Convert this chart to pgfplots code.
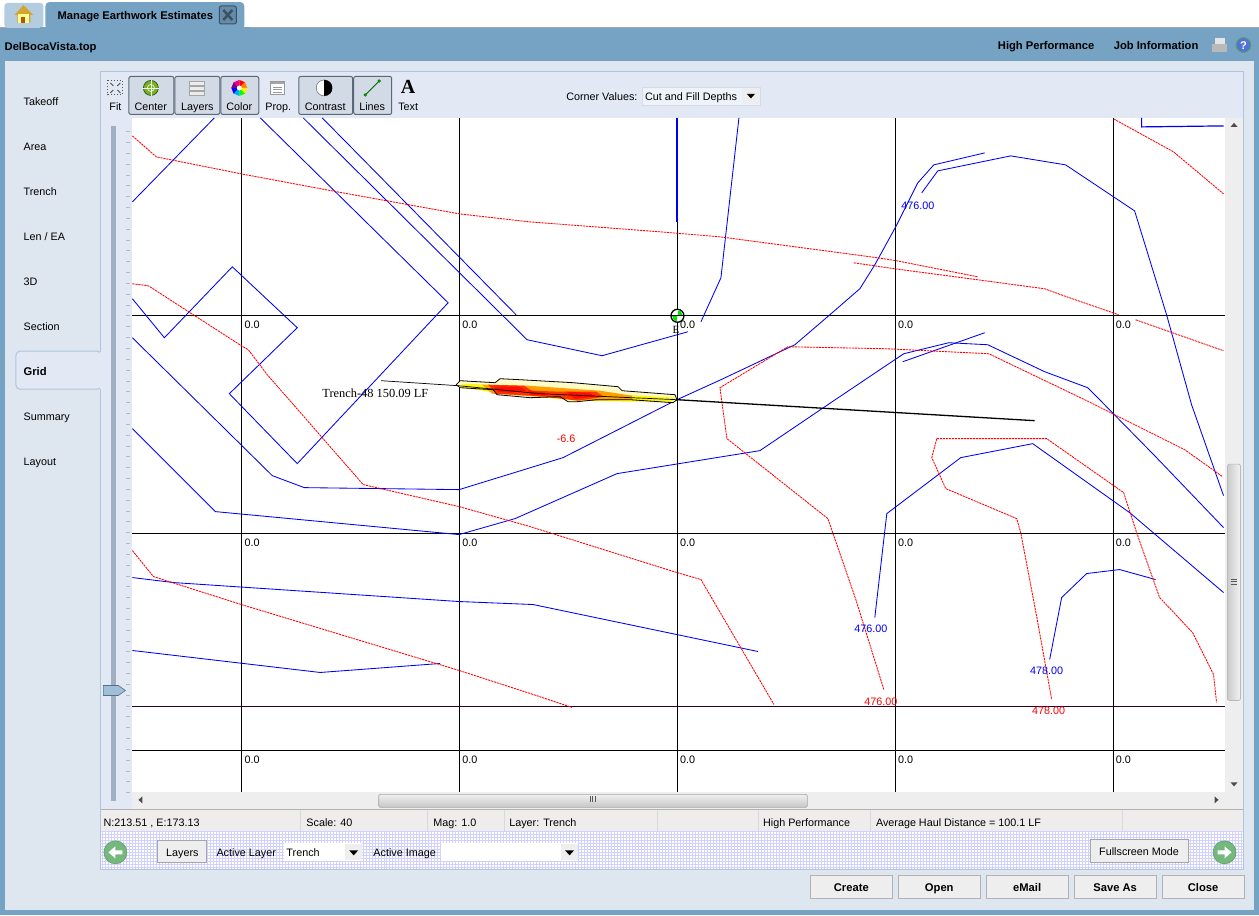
\documentclass[border=0pt]{standalone}
\usepackage{pgfplots}
\pgfplotsset{compat=1.18}
\usepackage{fontspec}
\setmainfont{Liberation Sans}
\newfontfamily\serifx{Liberation Serif}
\usetikzlibrary{patterns}
\definecolor{hdr}{HTML}{76A3C4}
\definecolor{pan}{HTML}{DEE6F0}
\definecolor{inn}{HTML}{E2E9F5}
\definecolor{edge}{HTML}{B0C4DE}
\definecolor{btn}{HTML}{D2DAE6}
\definecolor{btnb}{HTML}{5A6878}
\definecolor{cblue}{HTML}{0000F0}
\definecolor{cred}{HTML}{FF0000}
\definecolor{stat}{HTML}{EFEDEC}
\definecolor{sb}{HTML}{EEEEEE}
\definecolor{grn}{HTML}{74B87C}
\definecolor{sld}{HTML}{A0AFC2}
\newcommand{\pl}[2]{\addplot[forget plot,mark=none,#1] coordinates {#2};}
\newcommand{\pg}[2]{\addplot[forget plot,mark=none,draw=none,#1] coordinates {#2} --cycle;}
\newcommand{\rc}[5]{\addplot[forget plot,mark=none,draw=none,#1] coordinates {(#2,#3)(#4,#3)(#4,#5)(#2,#5)} --cycle;}
\newcommand{\dt}[4]{\path[#2] (axis cs:#3,#4) circle[radius=#1pt];}
\newcommand{\tl}[3]{\node[anchor=mid west,inner sep=0pt,yshift=-1.8pt] at (axis cs:#1,#2) {#3};}
\newcommand{\tc}[3]{\node[anchor=mid,inner sep=0pt,yshift=-1.8pt] at (axis cs:#1,#2) {#3};}
\newcommand{\tb}[4][mid west]{\node[anchor=#1,inner sep=0pt,yshift=-1.8pt,font=\fontsize{11.2}{13}\selectfont\bfseries] at (axis cs:#2,#3) {#4};}
\tikzset{blu/.style={draw=cblue,line width=0.85pt},
 rdl/.style={draw=cred,line width=0.85pt,dash pattern=on 2.2pt off 0.8pt},
 blk/.style={draw=black,line width=1pt}}
\begin{document}
\begin{tikzpicture}[every node/.style={font=\fontsize{10.8}{12}\selectfont}]
\begin{axis}[scale only axis,width=1259pt,height=916pt,xmin=0,xmax=1259,ymin=0,ymax=916,y dir=reverse,
 axis line style={draw=none},ticks=none,clip=false]
% window
\rc{fill=white}{0}{0}{1259}{916}
\rc{fill=hdr}{0}{28}{1259}{916}
\pl{draw=gray!70,line width=1pt}{(0,27.5)(1259,27.5)}
\rc{fill=pan}{5}{61}{1254}{911}
% tabs
\pg{fill=hdr!55!white,rounded corners=3pt}{(4,28)(4,3)(43,3)(43,28)}
\pg{fill=hdr,rounded corners=4pt}{(45,30)(45,2)(244,2)(244,30)}
\rc{fill=hdr}{40}{27}{250}{30}
% house
\pg{fill=brown!70!yellow}{(23,5)(33,15)(30,15)(30,23)(17,23)(17,15)(14,15)}
\rc{fill=yellow!40!white}{18}{14}{29}{23}
\rc{fill=orange!70!black}{21}{17}{25}{23}
% close box
\pg{fill=hdr!85!black,draw=hdr!50!black,line width=1pt,rounded corners=2pt}{(219,6)(236,6)(236,24)(219,24)}
\pl{draw=hdr!50!black,line width=2.5pt}{(223,10)(232,20)}
\pl{draw=hdr!50!black,line width=2.5pt}{(232,10)(223,20)}
% printer, help
\rc{fill=gray!20!white}{1215}{38}{1225}{45}
\rc{fill=gray!55!white}{1212}{44}{1227}{52}
\dt{7.5}{fill=hdr!70!blue,draw=green!35!gray,line width=0.8pt}{1244}{45}
% inner panel
\rc{fill=inn,draw=edge,line width=1pt}{100.5}{71.5}{1243.5}{870.5}
\rc{fill=pan}{5}{72}{100}{911}
\pl{draw=edge,line width=1pt}{(100.5,72)(100.5,351)}
\pl{draw=edge,line width=1pt}{(100.5,390)(100.5,870)}
\pg{fill=inn,rounded corners=4pt,draw=edge,line width=1pt}{(101,351.5)(15.5,351.5)(15.5,389.5)(101,389.5)}
\rc{fill=inn}{100}{352}{103}{389}
% canvas
\rc{fill=white}{132}{118}{1225}{793}
% slider
\rc{fill=sld}{111}{126}{116}{802}
\addplot[forget plot,only marks,mark=-,mark size=2pt,mark options={draw=gray!55,line width=0.9pt}] coordinates {
(128,132)(128,143)(128,154)(128,165)(128,176)(128,186)(128,197)(128,208)(128,219)(128,230)
(128,241)(128,251)(128,262)(128,273)(128,284)(128,295)(128,306)(128,316)(128,327)(128,338)
(128,349)(128,360)(128,371)(128,382)(128,392)(128,403)(128,414)(128,425)(128,436)(128,447)
(128,457)(128,468)(128,479)(128,490)(128,501)(128,512)(128,522)(128,533)(128,544)(128,555)
(128,566)(128,577)(128,587)(128,598)(128,609)(128,620)(128,631)(128,642)(128,652)(128,663)
(128,674)(128,685)(128,696)(128,707)(128,717)(128,728)(128,739)(128,750)(128,761)(128,772)
(128,782)(128,793)};
\pg{fill=hdr!70!white,draw=hdr!70!black,line width=0.6pt}{(103,686)(118,686)(125,691)(118,696)(103,696)}
% grid
\pl{blk}{(241.5,118)(241.5,793)}
\pl{blk}{(459.5,118)(459.5,793)}
\pl{blk}{(677.5,118)(677.5,793)}
\pl{blk}{(895.5,118)(895.5,793)}
\pl{blk}{(1113.5,118)(1113.5,793)}
\pl{blk}{(132,315.5)(1225,315.5)}
\pl{blk}{(132,533.5)(1225,533.5)}
\pl{draw=black!70!violet,line width=1pt}{(132,707.5)(1225,707.5)}
\pl{blk}{(132,751.5)(1225,751.5)}
% blue contours
\pl{blu}{(132,202)(214,118)}
\pl{blu}{(132,299)(164,338)(232,267)(297,328)(229,394)(297,464)(448,303)(260,118)}
\pl{blu}{(303,118)(527,340)(602,356)(688,332)}
\pl{blu}{(322,118)(516,315)}
\pl{blu}{(132,338)(272,476)(304,488)(459,490)(563,458)(677,400)(721,380)(795,345)(830,315)(860,289)(875,265)(897,225)(918,183)(934,165)(985,153)}
\pl{blu}{(132,429)(215,512)(459,535)(515,519)(617,474)(760,451)(828,405)(895,360)(904,354)(949,343)(988,345)(1045,372)(1088,388)(1100,400)(1156,457)(1224,528)}
\pl{blu}{(903,362)(985,333)}
\pl{blu}{(922,193)(938,171)(1011,156)(1066,165)(1135,211)(1167,315)(1192,405)(1224,496)}
\pl{blu}{(739,118)(721,278)(701,322)}
\pl{draw=cblue,line width=2pt}{(677,118)(677,222)}
\pl{blu,line width=1.2pt}{(1142,118)(1142,127)(1224,126)}
\pl{blu}{(875,618)(887,514)(961,458)(1033,444)(1130,513)(1224,593)}
\pl{blu}{(1050,660)(1062,598)(1087,574)(1120,570)(1156,580)}
\pl{blu}{(132,578)(173,583)(459,602)(533,605)(758,652)}
\pl{blu}{(132,651)(320,673)(440,664)}
% red contours
\pl{rdl}{(132,136)(156,157)(241,174)(337,192)(459,214)(529,222)(660,232)(720,237)(878,258)(897,261)(978,277)}
\pl{rdl}{(854,263)(895,269)(978,280)(1045,289)(1067,297)(1119,315)}
\pl{rdl}{(1136,320)(1224,351)}
\pl{rdl}{(884,690)(856,600)(828,519)(727,439)(720,388)(788,347)(886,349)(989,354)(1085,400)(1185,450)(1223,477)}
\pl{rdl}{(937,439)(1047,439)(1124,493)(1137,533)(1160,598)(1193,633)(1214,675)(1217,703)}
\pl{rdl}{(937,439)(932,458)(946,489)(1017,519)(1021,533)(1037,617)(1052,700)}
\pl{rdl}{(132,284)(148,286)(241,346)(248,350)(267,375)(363,485)(459,507)(530,527)(677,573)(701,580)(774,705)}
\pl{rdl}{(132,551)(153,577)(241,605)(459,671)(530,694)(572,708)}
\pl{rdl}{(1114,119)(1174,152)(1224,194)}
% trench heat
\pg{fill=yellow!22!white}{(456,385)(460,381)(495,383)(500,379)(520,380)(573,383)(618,387)(622,391)(675,395)(677,400)(673,403)(630,400)(597,400)(577,402)(568,402)(560,397)(530,398)(497,395)(493,390)(460,388)}
\pg{fill=yellow!90!white}{(462,384)(490,385)(560,391)(625,395)(676,398)(672,402)(632,402)(632,402)(575,401)(490,392)(462,388)}
\pg{fill=orange!75!yellow}{(482,385)(528,386)(600,391)(632,396)(632,400)(590,401)(540,397)(492,394)}
\pg{fill=red!60!orange}{(488,385)(524,386)(532,391)(560,392)(596,392)(604,397)(578,401)(545,397)(530,396)(496,394)}
\pg{fill=red!90!orange}{(494,387)(520,387)(526,391)(510,393)(498,392)}
\pg{fill=red!90!orange}{(528,391)(545,393)(545,396)(530,395)}
\pg{fill=red!90!orange}{(566,392)(590,393)(595,397)(575,399)}
\pl{draw=black,line width=0.8pt}{(456,385)(460,381)(495,383)(500,379)(520,380)(573,383)(618,387)(622,391)(675,395)(677,400)(673,403)(630,400)(597,400)(577,402)(568,402)(560,397)(530,398)(497,395)(493,390)(460,388)(456,385)}
\pl{draw=black,line width=0.7pt}{(381,381)(458,386)(540,394)(677,400)}
\pl{draw=black,line width=1.3pt}{(677,400)(1035,421)}
% cursor
\dt{6.5}{fill=white,draw=black,line width=1.3pt}{677.5}{316}
\pg{fill=green!90!black}{(678,316)(678,310.5)(681,311.5)(683,316)}
\pg{fill=green!90!black}{(677,316)(677,321.5)(674,320.5)(672,316)}
\pl{draw=black,line width=1pt}{(671,315.5)(684,315.5)}
% scrollbars
\rc{fill=sb}{132}{793}{1225}{810}
\rc{fill=sb}{1225}{118}{1243}{810}
\pg{top color=gray!12,bottom color=gray!45,draw=gray!70,line width=0.7pt,rounded corners=2pt}{(378.5,795)(807.5,795)(807.5,808)(378.5,808)}
\pg{left color=gray!40,right color=gray!10,draw=gray!55,line width=0.7pt,rounded corners=2pt}{(1228,464.5)(1241,464.5)(1241,701)(1228,701)}
\pl{draw=gray!70!black,line width=0.8pt}{(590,797)(590,803)}
\pl{draw=gray!70!black,line width=0.8pt}{(592.5,797)(592.5,803)}
\pl{draw=gray!70!black,line width=0.8pt}{(595,797)(595,803)}
\pl{draw=gray!70!black,line width=0.8pt}{(1231,579.5)(1237,579.5)}
\pl{draw=gray!70!black,line width=0.8pt}{(1231,582)(1237,582)}
\pl{draw=gray!70!black,line width=0.8pt}{(1231,584.5)(1237,584.5)}
\pg{fill=black!70}{(142,797)(142,804)(138,800.5)}
\pg{fill=black!70}{(1215,797)(1215,804)(1219,800.5)}
\pg{fill=black!70}{(1231,127)(1238,127)(1234.5,123)}
\pg{fill=black!70}{(1231,783)(1238,783)(1234.5,787)}
% status bar
\rc{fill=stat}{101}{811}{1243}{832}
\pl{draw=gray!60,line width=1pt}{(101,810.5)(1243,810.5)}
\pl{draw=gray!30,line width=0.8pt}{(300.5,811)(300.5,832)}
\pl{draw=gray!30,line width=0.8pt}{(427.5,811)(427.5,832)}
\pl{draw=gray!30,line width=0.8pt}{(504.5,811)(504.5,832)}
\pl{draw=gray!30,line width=0.8pt}{(657.5,811)(657.5,832)}
\pl{draw=gray!30,line width=0.8pt}{(758.5,811)(758.5,832)}
\pl{draw=gray!30,line width=0.8pt}{(870.5,811)(870.5,832)}
\pl{draw=gray!30,line width=0.8pt}{(1122.5,811)(1122.5,832)}
% bottom strip
\rc{fill=white}{101}{832}{1243}{870}
\rc{pattern=grid,pattern color=blue!18!white}{101}{832}{1243}{870}
\pl{draw=edge,line width=1pt}{(101,870.5)(1243,870.5)}
\dt{11.5}{fill=grn,draw=grn!85!black,line width=0.6pt}{115}{853}
\dt{11.5}{fill=grn,draw=grn!85!black,line width=0.6pt}{1225}{853}
\pg{fill=white}{(108,853)(115,847)(115,851)(122,851)(122,855)(115,855)(115,859)}
\pg{fill=white}{(1232,853)(1225,847)(1225,851)(1218,851)(1218,855)(1225,855)(1225,859)}
\rc{fill=sb,draw=gray!70,line width=0.8pt}{157.5}{841.5}{206.5}{863.5}
\rc{fill=white}{284}{844}{362}{862}
\rc{fill=sb}{345}{845}{362}{861}
\pg{fill=black}{(349,851)(358,851)(353.5,856)}
\rc{fill=white}{441}{844}{578}{862}
\rc{fill=sb}{561}{845}{578}{861}
\pg{fill=black}{(565,851)(574,851)(569.5,856)}
\rc{fill=sb,draw=gray!70,line width=0.8pt}{1090.5}{840.5}{1189}{863}
% action buttons
\rc{fill=sb,draw=gray!60,line width=1pt}{810.5}{876.5}{892.5}{899.5}
\rc{fill=sb,draw=gray!60,line width=1pt}{898.5}{876.5}{980.5}{899.5}
\rc{fill=sb,draw=gray!60,line width=1pt}{986.5}{876.5}{1068.5}{899.5}
\rc{fill=sb,draw=gray!60,line width=1pt}{1074.5}{876.5}{1156.5}{899.5}
\rc{fill=sb,draw=gray!60,line width=1pt}{1162.5}{876.5}{1244.5}{899.5}
% toolbar buttons
\pg{fill=btn,draw=btnb,line width=1pt,rounded corners=2pt}{(128.5,76.5)(173.5,76.5)(173.5,114.5)(128.5,114.5)}
\pg{fill=btn,draw=btnb,line width=1pt,rounded corners=2pt}{(174.5,76.5)(219.5,76.5)(219.5,114.5)(174.5,114.5)}
\pg{fill=btn,draw=btnb,line width=1pt,rounded corners=2pt}{(220.5,76.5)(258.5,76.5)(258.5,114.5)(220.5,114.5)}
\pg{fill=btn,draw=btnb,line width=1pt,rounded corners=2pt}{(298.5,76.5)(352.5,76.5)(352.5,114.5)(298.5,114.5)}
\pg{fill=btn,draw=btnb,line width=1pt,rounded corners=2pt}{(353.5,76.5)(391.5,76.5)(391.5,114.5)(353.5,114.5)}
% Fit icon
\rc{draw=black!65,line width=0.9pt,dash pattern=on 1.5pt off 1.5pt}{107.5}{80.5}{122}{95}
\pl{draw=black!70,line width=0.9pt}{(110,83)(113,86)}
\pl{draw=black!70,line width=0.9pt}{(120,83)(117,86)}
\pl{draw=black!70,line width=0.9pt}{(110,93)(113,90)}
\pl{draw=black!70,line width=0.9pt}{(120,93)(117,90)}
% Center icon
\dt{7.5}{fill=olive!65!green!85!white,draw=green!35!black,line width=0.6pt}{150.5}{88}
\dt{3.5}{draw=white!85!green,line width=0.7pt}{150.5}{88}
\pl{draw=white!85!green,line width=0.7pt}{(142,88)(159,88)}
\pl{draw=white!85!green,line width=0.7pt}{(150.5,80)(150.5,96)}
% Layers icon
\rc{fill=gray!15,draw=gray!70,line width=0.8pt}{189.5}{81}{204.5}{85}
\rc{fill=gray!15,draw=gray!70,line width=0.8pt}{189.5}{86}{204.5}{90}
\rc{fill=gray!15,draw=gray!70,line width=0.8pt}{189.5}{91}{204.5}{95}
% Color wheel
\pg{fill=red}{(239,88)(239,80)(244.7,82.3)}
\pg{fill=orange}{(239,88)(244.7,82.3)(247,88)}
\pg{fill=yellow}{(239,88)(247,88)(244.7,93.7)}
\pg{fill=green}{(239,88)(244.7,93.7)(239,96)}
\pg{fill=cyan}{(239,88)(239,96)(233.3,93.7)}
\pg{fill=blue}{(239,88)(233.3,93.7)(231,88)}
\pg{fill=violet}{(239,88)(231,88)(233.3,82.3)}
\pg{fill=magenta}{(239,88)(233.3,82.3)(239,80)}
\dt{2.5}{fill=white}{239}{88}
% Prop icon
\rc{fill=white,draw=gray!80,line width=0.9pt}{270.5}{81.5}{284.5}{95}
\rc{fill=gray!70}{271}{82}{284}{84.5}
\pl{draw=gray!80,line width=0.7pt}{(273,87)(282,87)}
\pl{draw=gray!80,line width=0.7pt}{(273,89.5)(282,89.5)}
\pl{draw=gray!80,line width=0.7pt}{(273,92)(282,92)}
% Contrast icon
\dt{8}{fill=white,draw=black!60,line width=0.5pt}{324}{88}
\pg{fill=black}{(324,80)(327,80.6)(330,82.5)(331.5,85)(332,88)(331.5,91)(330,93.5)(327,95.4)(324,96)}
% Lines icon
\pl{draw=green!40!black,line width=0.9pt}{(365,95)(379,81)}
\dt{1.4}{fill=green!70!black,draw=green!40!black,line width=0.4pt}{365}{95}
\dt{1.4}{fill=green!70!black,draw=green!40!black,line width=0.4pt}{379}{81}
% combobox Corner Values
\rc{fill=inn!60!white,draw=edge!60!white,line width=0.6pt}{642}{87}{760}{105}
\rc{fill=sb}{742}{88}{760}{104}
\pg{fill=black}{(747,94)(755,94)(751,98.5)}
% texts
\tb{57}{15}{Manage Earthwork Estimates}
\tb{4}{46}{DelBocaVista.top}
\tb{998}{45}{High Performance}
\tb{1114}{45}{Job Information}
\tb[mid]{1244}{45}{\textcolor{white}{?}}
\tl{23}{101}{Takeoff}
\tl{23}{146}{Area}
\tl{23}{191}{Trench}
\tl{23}{236}{Len / EA}
\tl{23}{281}{3D}
\tl{23}{326}{Section}
\tb{23}{371}{Grid}
\tl{23}{416}{Summary}
\tl{23}{461}{Layout}
\tc{115}{106}{Fit}
\tc{150.5}{106}{Center}
\tc{197}{106}{Layers}
\tc{239}{106}{Color}
\tc{278}{106}{Prop.}
\tc{325}{106}{Contrast}
\tc{372}{106}{Lines}
\tc{408}{106}{Text}
\node[anchor=mid,inner sep=0pt,yshift=-3pt,font=\fontsize{20}{22}\selectfont\serifx\bfseries] at (axis cs:408,88) {A};
\tl{566}{96}{Corner Values:}
\tl{645}{96}{Cut and Fill Depths}
% grid values
\tl{244}{324}{0.0}\tl{462}{324}{0.0}\tl{680}{324}{0.0}\tl{898}{324}{0.0}\tl{1116}{324}{0.0}
\tl{244}{542}{0.0}\tl{462}{542}{0.0}\tl{680}{542}{0.0}\tl{898}{542}{0.0}\tl{1116}{542}{0.0}
\tl{244}{760}{0.0}\tl{462}{760}{0.0}\tl{680}{760}{0.0}\tl{898}{760}{0.0}\tl{1116}{760}{0.0}
\tc{918}{205}{\textcolor{cblue}{476.00}}
\tc{871}{629}{\textcolor{cblue}{476.00}}
\tc{1047}{671}{\textcolor{cblue}{478.00}}
\tc{881}{702}{\textcolor{cred}{476.00}}
\tc{1049}{711}{\textcolor{cred}{478.00}}
\tc{566}{438}{\textcolor{cred}{-6.6}}
\node[anchor=mid west,inner sep=0pt,yshift=-1.8pt,font=\fontsize{12.4}{14}\selectfont\serifx] at (axis cs:322,393) {Trench-48 150.09 LF};
\node[anchor=mid,inner sep=0pt,yshift=-1.8pt,font=\fontsize{11}{12}\selectfont\serifx] at (axis cs:676,329) {E};
% status texts
\tl{103}{823}{N:213.51 , E:173.13}
\tl{306}{823}{Scale:  40}
\tl{433}{823}{Mag: 1.0}
\tl{509}{823}{Layer: Trench}
\tl{763}{823}{High Performance}
\tl{876}{823}{Average Haul Distance = 100.1 LF}
\tc{182}{853}{Layers}
\tl{216}{853}{Active Layer}
\tl{286}{853}{Trench}
\tl{373}{853}{Active Image}
\tc{1139.5}{852}{Fullscreen Mode}
\tb[mid]{851.5}{888}{Create}
\tb[mid]{939.5}{888}{Open}
\tb[mid]{1027.5}{888}{eMail}
\tb[mid]{1115.5}{888}{Save As}
\tb[mid]{1203.5}{888}{Close}
\end{axis}
\end{tikzpicture}
\end{document}
